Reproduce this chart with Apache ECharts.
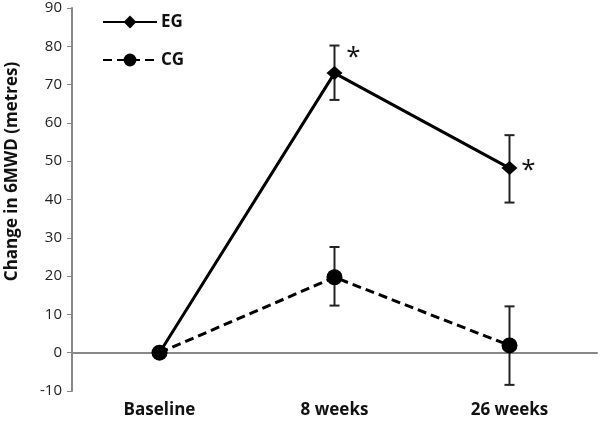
<!DOCTYPE html>
<html><head><meta charset="utf-8">
<script src="https://cdn.jsdelivr.net/npm/echarts@6/dist/echarts.min.js"></script>
<style>html,body{margin:0;padding:0;background:#fff}#c{width:600px;height:423px}</style>
</head><body><div id="c"></div>
<script>
var categories = ['Baseline', '8 weeks', '26 weeks'];
var egMean = [0, 73, 48.2];
var egLow = [0, 66, 39.2];
var egHigh = [0, 80.2, 56.8];
var cgMean = [0, 19.7, 1.9];
var cgLow = [0, 12.3, -8.4];
var cgHigh = [0, 27.6, 12.1];
var starCategories = ['8 weeks', '26 weeks'];
var starValues = [78.8, 49.5];
var yTicks = [-10, 0, 10, 20, 30, 40, 50, 60, 70, 80, 90];

var FONT = '"Open Sans"';
function errData(low, high) {
  var d = [];
  for (var i = 0; i < categories.length; i++) {
    if (high[i] !== low[i]) d.push([i, low[i], high[i]]);
  }
  return d;
}
function errRender(params, api) {
  var x = api.value(0);
  var lo = api.coord([x, api.value(1)]);
  var hi = api.coord([x, api.value(2)]);
  var w = 5;
  var st = { stroke: '#222', lineWidth: 2 };
  return { type: 'group', children: [
    { type: 'line', shape: { x1: lo[0], y1: lo[1], x2: hi[0], y2: hi[1] }, style: st },
    { type: 'line', shape: { x1: lo[0] - w, y1: lo[1], x2: lo[0] + w, y2: lo[1] }, style: st },
    { type: 'line', shape: { x1: hi[0] - w, y1: hi[1], x2: hi[0] + w, y2: hi[1] }, style: st }
  ]};
}
var starData = starCategories.map(function (c, i) { return [categories.indexOf(c), starValues[i]]; });
function starRender(params, api) {
  var p = api.coord([api.value(0), api.value(1)]);
  return { type: 'text', x: p[0] + 19, y: p[1] + 7,
    style: { text: '*', fill: '#111', font: '26px "Open Sans"', align: 'center', verticalAlign: 'middle' } };
}
var chart = echarts.init(document.getElementById('c'));
chart.setOption({
  animation: false,
  grid: { left: 72, right: 3, top: 8, bottom: 32, containLabel: false, outerBoundsMode: 'none' },
  legend: {
    left: 97, top: 6, orient: 'vertical', itemGap: 16, itemWidth: 54, itemHeight: 16,
    data: ['EG', 'CG'],
    textStyle: { fontFamily: FONT, fontSize: 17, fontWeight: 'bold', color: '#111', lineHeight: 22, padding: [0, 0, 0, -1] }
  },
  xAxis: {
    type: 'category', data: categories, boundaryGap: true,
    axisLine: { lineStyle: { color: '#888', width: 2 } },
    axisTick: { show: false },
    axisLabel: { fontFamily: FONT, fontSize: 17, fontWeight: 'bold', color: '#111', margin: 11 }
  },
  yAxis: {
    type: 'value', min: -10, max: 90, interval: 10,
    splitLine: { show: false },
    axisLine: { show: true, lineStyle: { color: '#888', width: 2 } },
    axisTick: { show: true, length: 5, lineStyle: { color: '#888' } },
    axisLabel: { fontFamily: FONT, fontSize: 15, color: '#222', margin: 10,
      formatter: function (v) { return yTicks.indexOf(v) >= 0 ? String(v) : ''; } },
    name: 'Change in 6MWD (metres)', nameLocation: 'middle', nameGap: 51,
    nameTextStyle: { fontFamily: FONT, fontSize: 17, fontWeight: 'bold', color: '#111', padding: [0, 0, 0, 56] }
  },
  series: [
    { name: 'EG', type: 'line', data: egMean, symbol: 'diamond', symbolSize: [16, 14],
      itemStyle: { color: '#000' }, lineStyle: { color: '#000', width: 3 }, z: 3 },
    { name: 'CG', type: 'line', data: cgMean, symbol: 'circle', symbolSize: 16,
      itemStyle: { color: '#000' }, lineStyle: { color: '#000', width: 3, type: [9, 5] }, z: 4 },
    { name: 'EGerr', type: 'custom', data: errData(egLow, egHigh), renderItem: errRender, z: 2 },
    { name: 'CGerr', type: 'custom', data: errData(cgLow, cgHigh), renderItem: errRender, z: 2 },
    { name: 'stars', type: 'custom', data: starData, renderItem: starRender, z: 5 }
  ]
});
</script></body></html>
